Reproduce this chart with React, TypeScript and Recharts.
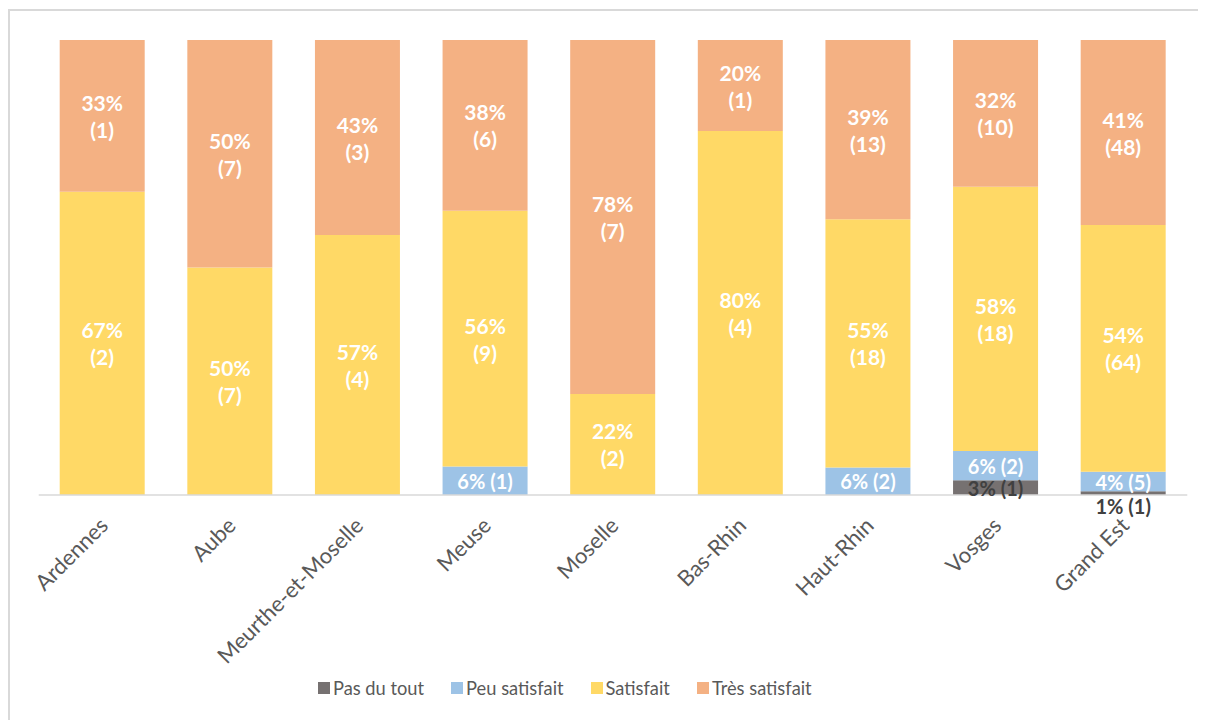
import React from 'react';
import { BarChart, Bar, XAxis, YAxis, Legend, LabelList } from 'recharts';

const categories = ['Ardennes', 'Aube', 'Meurthe-et-Moselle', 'Meuse', 'Moselle', 'Bas-Rhin', 'Haut-Rhin', 'Vosges', 'Grand Est'];
// counts
const pasDuTout = [0, 0, 0, 0, 0, 0, 0, 1, 1];
const peuSatisfait = [0, 0, 0, 1, 0, 0, 2, 2, 5];
const satisfait = [2, 7, 4, 9, 2, 4, 18, 18, 64];
const tresSatisfait = [1, 7, 3, 6, 7, 1, 13, 10, 48];
// percentages shown in labels
const pasPct = [0, 0, 0, 0, 0, 0, 0, 3, 1];
const peuPct = [0, 0, 0, 6, 0, 0, 6, 6, 4];
const satPct = [67, 50, 57, 56, 22, 80, 55, 58, 54];
const tresPct = [33, 50, 43, 38, 78, 20, 39, 32, 41];

const lab = (p: number, c: number) => (c ? `${p}|${c}` : '');

const data = categories.map((name, i) => ({
  name,
  pas: pasDuTout[i],
  peu: peuSatisfait[i],
  sat: satisfait[i],
  tres: tresSatisfait[i],
  pasL: lab(pasPct[i], pasDuTout[i]),
  peuL: lab(peuPct[i], peuSatisfait[i]),
  satL: lab(satPct[i], satisfait[i]),
  tresL: lab(tresPct[i], tresSatisfait[i]),
}));

const FONT = 'Lato, "Open Sans", sans-serif';

const makeLabel = (color: string) => (props: any) => {
  const x = Number(props.x), y = Number(props.y), w = Number(props.width), h = Number(props.height);
  const v = props.value;
  if (!v || typeof v !== 'string') return null;
  const [pct, cnt] = v.split('|');
  const cx = x + w / 2;
  let cy = y + h / 2;
  if (h < 8) cy = y + h + 11;
  const common = {
    textAnchor: 'middle' as const,
    dominantBaseline: 'central' as const,
    fill: color,
    fontFamily: FONT,
    fontWeight: 700,
    fontSize: 21,
  };
  if (h >= 60) {
    return (
      <g>
        <text x={cx} y={cy - 13.5} {...common}>{`${pct}%`}</text>
        <text x={cx} y={cy + 13.5} {...common}>{`(${cnt})`}</text>
      </g>
    );
  }
  return <text x={cx} y={cy} {...common} fontSize={20}>{`${pct}% (${cnt})`}</text>;
};

const Tick = (props: any) => {
  const { x, y, payload } = props;
  return (
    <g transform={`translate(${Number(x) + 7},${Number(y) + 24}) rotate(-45)`}>
      <text x={0} y={0} textAnchor="end" fill="#595959" fontFamily={FONT} fontSize={22}>
        {payload.value}
      </text>
    </g>
  );
};

const LegendContent = (props: any) => {
  const items = props.payload || [];
  return (
    <div style={{ display: 'flex', alignItems: 'center', height: 24, fontFamily: FONT, fontSize: 18.3, color: '#595959' }}>
      {items.map((it: any) => (
        <div key={it.value} style={{ display: 'flex', alignItems: 'center', marginRight: 27 }}>
          <span style={{ display: 'inline-block', width: 12, height: 12, background: it.color, marginRight: 3 }} />
          <span>{it.value}</span>
        </div>
      ))}
    </div>
  );
};

export default function App() {
  return (
    <div style={{ position: 'relative', width: 1198, height: 712 }}>
      <div
        style={{
          position: 'absolute',
          left: 0,
          top: 1,
          width: 1198,
          height: 711,
          borderTop: '2px solid #D9D9D9',
          borderLeft: '2px solid #D9D9D9',
          boxSizing: 'border-box',
        }}
      />
      <div style={{ position: 'absolute', left: 0, top: 0 }}>
        <BarChart
          width={1198}
          height={712}
          data={data}
          stackOffset="expand"
          margin={{ top: 32, left: 30.7, right: 18.7, bottom: 10 }}
          barSize={85}
        >
          <XAxis
            dataKey="name"
            axisLine={{ stroke: '#D9D9D9', strokeWidth: 1.5 }}
            tickLine={false}
            interval={0}
            height={191}
            tick={<Tick />}
          />
          <YAxis hide domain={[0, 1]} />
          <Legend
            verticalAlign="bottom"
            content={<LegendContent />}
            wrapperStyle={{ position: 'absolute', left: 310, top: 668, width: 560, height: 24 }}
          />
          <Bar dataKey="pas" name="Pas du tout" stackId="a" fill="#767171" isAnimationActive={false}>
            <LabelList dataKey="pasL" content={makeLabel('#404040')} />
          </Bar>
          <Bar dataKey="peu" name="Peu satisfait" stackId="a" fill="#9DC3E6" isAnimationActive={false}>
            <LabelList dataKey="peuL" content={makeLabel('#FFFFFF')} />
          </Bar>
          <Bar dataKey="sat" name="Satisfait" stackId="a" fill="#FFD966" isAnimationActive={false}>
            <LabelList dataKey="satL" content={makeLabel('#FFFFFF')} />
          </Bar>
          <Bar dataKey="tres" name="Très satisfait" stackId="a" fill="#F4B183" isAnimationActive={false}>
            <LabelList dataKey="tresL" content={makeLabel('#FFFFFF')} />
          </Bar>
        </BarChart>
      </div>
    </div>
  );
}
